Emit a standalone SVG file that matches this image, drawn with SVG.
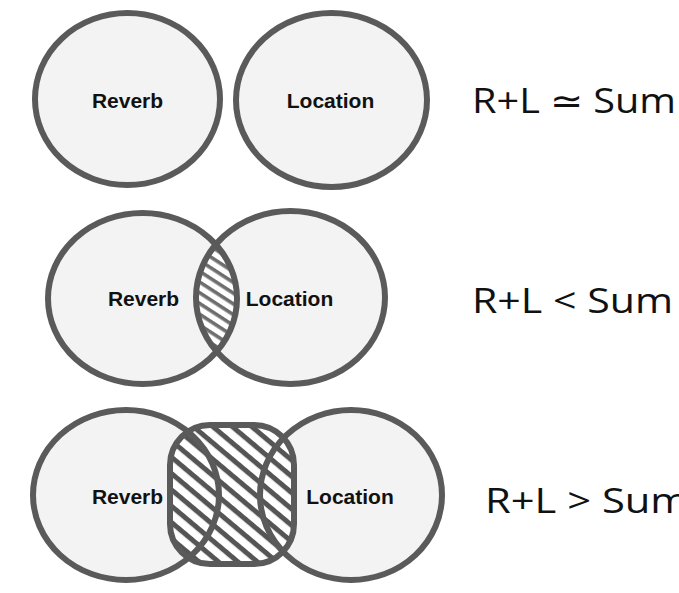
<svg xmlns="http://www.w3.org/2000/svg" width="679" height="593" viewBox="0 0 679 593">
<style>
.fill{fill:#f3f3f3;stroke:none}
.ring{fill:none;stroke:#5a5a5a;stroke-width:6}
.lbl{font-family:"Liberation Sans",Arial,sans-serif;font-weight:bold;font-size:21px;fill:#111;text-anchor:middle}
.eq{font-family:"Open Sans","Liberation Sans",sans-serif;font-size:35px;fill:#111}
</style>
<defs>
<pattern id="hatchA" width="9" height="9" patternUnits="userSpaceOnUse" patternTransform="rotate(33)">
<rect width="9" height="9" fill="#ffffff"/>
<rect y="0" width="9" height="3.6" fill="#6e6e6e"/>
</pattern>
<pattern id="hatchB" width="12.5" height="12.5" patternUnits="userSpaceOnUse" patternTransform="rotate(40)">
<rect width="12.5" height="12.5" fill="#ffffff"/>
<rect y="0" width="12.5" height="5" fill="#555555"/>
</pattern>
<clipPath id="clipL2"><ellipse cx="142.5" cy="298.5" rx="94.5" ry="85.5"/></clipPath>
</defs>
<rect width="679" height="593" fill="#ffffff"/>

<g id="row1">
<g id="r1-reverb">
<ellipse class="fill" cx="127.5" cy="99" rx="92.5" ry="86"/>
<ellipse class="ring" cx="127.5" cy="99" rx="92.5" ry="86"/>
<text class="lbl" x="127.5" y="108">Reverb</text>
</g>
<g id="r1-location">
<ellipse class="fill" cx="331.5" cy="100" rx="95.5" ry="87"/>
<ellipse class="ring" cx="331.5" cy="100" rx="95.5" ry="87"/>
<text class="lbl" x="330.5" y="108">Location</text>
</g>
<text id="r1-eq" class="eq" x="472" y="113" textLength="204" lengthAdjust="spacingAndGlyphs">R+L ≃ Sum</text>
</g>

<g id="row2">
<g id="r2-shapes">
<ellipse class="fill" cx="142.5" cy="298.5" rx="94.5" ry="85.5"/>
<ellipse class="fill" cx="290.5" cy="297.5" rx="94.5" ry="86.5"/>
<ellipse cx="290.5" cy="297.5" rx="94.5" ry="86.5" fill="url(#hatchA)" clip-path="url(#clipL2)"/>
<ellipse class="ring" cx="142.5" cy="298.5" rx="94.5" ry="85.5"/>
<ellipse class="ring" cx="290.5" cy="297.5" rx="94.5" ry="86.5"/>
</g>
<text class="lbl" x="143.5" y="306">Reverb</text>
<text class="lbl" x="289.5" y="306">Location</text>
<text id="r2-eq" class="eq" x="472" y="313" textLength="201" lengthAdjust="spacingAndGlyphs">R+L &lt; Sum</text>
</g>

<g id="row3">
<g id="r3-shapes">
<ellipse class="fill" cx="126" cy="495" rx="93" ry="85"/>
<ellipse class="fill" cx="351" cy="495" rx="91" ry="85"/>
<rect x="170" y="425" width="124" height="139" rx="40" ry="40" fill="url(#hatchB)"/>
<ellipse class="ring" cx="126" cy="495" rx="93" ry="85"/>
<ellipse class="ring" cx="351" cy="495" rx="91" ry="85"/>
<rect x="170" y="425" width="124" height="139" rx="40" ry="40" fill="none" stroke="#5a5a5a" stroke-width="6"/>
</g>
<text class="lbl" x="127.5" y="504">Reverb</text>
<text class="lbl" x="350" y="504">Location</text>
<text id="r3-eq" class="eq" x="485" y="513" textLength="204" lengthAdjust="spacingAndGlyphs">R+L &gt; Sum</text>
</g>
</svg>
